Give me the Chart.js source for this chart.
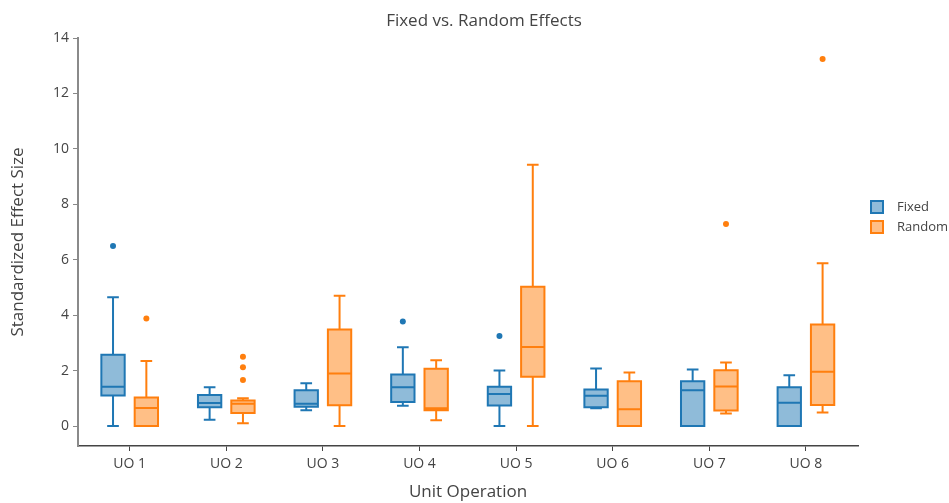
<!DOCTYPE html>
<html>
<head>
<meta charset="utf-8">
<script src="https://cdn.jsdelivr.net/npm/chart.js@4/dist/chart.umd.min.js"></script>
<style>
  html, body { margin: 0; padding: 0; background: #fff; }
  #wrap { width: 949px; height: 503px; position: relative; }
</style>
</head>
<body>
<div id="wrap"><canvas id="c" width="949" height="503"></canvas></div>
<script>
// Unit operations on the category axis
const categories = ['UO 1', 'UO 2', 'UO 3', 'UO 4', 'UO 5', 'UO 6', 'UO 7', 'UO 8'];

// Fixed effects: five-number summaries and outliers per unit operation
const fixedMin     = [0.00, 0.23, 0.57, 0.73, 0.00, 0.64, 0.00, 0.00];
const fixedQ1      = [1.10, 0.68, 0.70, 0.87, 0.74, 0.68, 0.00, 0.00];
const fixedMedian  = [1.42, 0.83, 0.80, 1.40, 1.16, 1.09, 1.29, 0.84];
const fixedQ3      = [2.57, 1.12, 1.29, 1.86, 1.42, 1.32, 1.62, 1.40];
const fixedMax     = [4.65, 1.40, 1.54, 2.84, 2.00, 2.08, 2.04, 1.83];
const fixedOutliers = [[6.50], [], [], [3.77], [3.25], [], [], []];

// Random effects: five-number summaries and outliers per unit operation
const randomMin     = [0.00, 0.10, 0.00, 0.21, 0.00, 0.00, 0.45, 0.49];
const randomQ1      = [0.00, 0.47, 0.75, 0.57, 1.78, 0.00, 0.56, 0.76];
const randomMedian  = [0.65, 0.80, 1.90, 0.64, 2.85, 0.61, 1.43, 1.96];
const randomQ3      = [1.03, 0.92, 3.48, 2.07, 5.03, 1.62, 2.01, 3.66];
const randomMax     = [2.35, 1.00, 4.70, 2.37, 9.43, 1.93, 2.29, 5.87];
const randomOutliers = [[3.88], [2.50, 2.12, 1.66], [], [], [], [], [7.29], [13.24]];

// Y axis tick values
const yTicks = [0, 2, 4, 6, 8, 10, 12, 14];

const FONT = "'Open Sans', 'Noto Sans', sans-serif";
const TEXT = '#444';
const BLUE = '#1f77b4';
const ORANGE = '#ff7f0e';

const series = [
  { name: 'Fixed', color: BLUE, fill: 'rgba(31,119,180,0.5)',
    min: fixedMin, q1: fixedQ1, med: fixedMedian, q3: fixedQ3, max: fixedMax, out: fixedOutliers },
  { name: 'Random', color: ORANGE, fill: 'rgba(255,127,14,0.5)',
    min: randomMin, q1: randomQ1, med: randomMedian, q3: randomQ3, max: randomMax, out: randomOutliers }
];

// Box outline, whiskers, caps, medians and outliers drawn over the filled floating bars
const boxExtras = {
  id: 'boxExtras',
  afterDatasetsDraw(chart) {
    const ctx = chart.ctx;
    const y = chart.scales.y;
    series.forEach((s, di) => {
      const meta = chart.getDatasetMeta(di);
      meta.data.forEach((bar, i) => {
        const cx = bar.x;
        const w = bar.width;
        const half = w / 2;
        const cap = w / 4;
        const pQ1 = y.getPixelForValue(s.q1[i]);
        const pQ3 = y.getPixelForValue(s.q3[i]);
        const pMin = y.getPixelForValue(s.min[i]);
        const pMax = y.getPixelForValue(s.max[i]);
        const pMed = y.getPixelForValue(s.med[i]);
        ctx.save();
        ctx.strokeStyle = s.color;
        ctx.lineWidth = 2;
        ctx.lineJoin = 'miter';
        ctx.beginPath();
        // box outline
        ctx.rect(cx - half, pQ3, w, pQ1 - pQ3);
        // upper whisker and cap
        ctx.moveTo(cx, pQ3); ctx.lineTo(cx, pMax);
        ctx.moveTo(cx - cap, pMax); ctx.lineTo(cx + cap, pMax);
        // lower whisker and cap
        ctx.moveTo(cx, pQ1); ctx.lineTo(cx, pMin);
        ctx.moveTo(cx - cap, pMin); ctx.lineTo(cx + cap, pMin);
        // median
        ctx.moveTo(cx - half, pMed); ctx.lineTo(cx + half, pMed);
        ctx.stroke();
        // outliers
        ctx.fillStyle = s.color;
        s.out[i].forEach(v => {
          ctx.beginPath();
          ctx.arc(cx, y.getPixelForValue(v), 3, 0, Math.PI * 2);
          ctx.fill();
        });
        ctx.restore();
      });
    });
  }
};

// Title and legend
const decorations = {
  id: 'decorations',
  afterDraw(chart) {
    const ctx = chart.ctx;
    ctx.save();
    ctx.fillStyle = TEXT;
    ctx.textBaseline = 'middle';
    ctx.textAlign = 'center';
    ctx.font = '17px ' + FONT;
    ctx.fillText('Fixed vs. Random Effects', 484, 21);

    ctx.textAlign = 'left';
    ctx.font = '13px ' + FONT;
    series.forEach((s, k) => {
      const top = 201 + k * 20;
      ctx.fillStyle = s.fill;
      ctx.fillRect(871, top, 12, 12);
      ctx.strokeStyle = s.color;
      ctx.lineWidth = 2;
      ctx.strokeRect(871, top, 12, 12);
      ctx.fillStyle = TEXT;
      ctx.fillText(s.name, 897, top + 6);
    });
    ctx.restore();
  }
};

new Chart(document.getElementById('c'), {
  type: 'bar',
  data: {
    labels: categories,
    datasets: series.map(s => ({
      label: s.name,
      data: s.q1.map((v, i) => [v, s.q3[i]]),
      backgroundColor: s.fill,
      borderColor: s.color,
      borderWidth: 0,
      categoryPercentage: 0.69,
      barPercentage: 0.70
    }))
  },
  options: {
    responsive: false,
    animation: false,
    devicePixelRatio: 1,
    layout: { padding: { top: 38, right: 91, bottom: 0, left: 0 } },
    plugins: {
      legend: { display: false },
      title: { display: false },
      tooltip: { enabled: false }
    },
    scales: {
      x: {
        offset: true,
        grid: { display: true, offset: false, drawOnChartArea: false, drawTicks: true, tickLength: 5, color: '#444', lineWidth: 1 },
        border: { display: true, color: '#444', width: 1.5 },
        ticks: { color: TEXT, font: { family: FONT, size: 14 }, padding: 5, maxRotation: 0, autoSkip: false },
        title: { display: true, text: 'Unit Operation', color: TEXT, font: { family: FONT, size: 17 }, padding: { top: 0, bottom: 1 } },
        afterFit(scale) { scale.height = 57; },
        // category range runs a little past the outer half-steps
        afterUpdate(scale) { scale._startValue = -0.535; scale._valueRange = 8.074; }
      },
      y: {
        min: -0.72,
        max: 14,
        grid: { display: true, drawOnChartArea: false, drawTicks: true, tickLength: 5, color: '#888', lineWidth: 1 },
        border: { display: true, color: '#8a8a8a', width: 2 },
        ticks: { color: TEXT, font: { family: FONT, size: 14 }, padding: 4 },
        afterBuildTicks(scale) { scale.ticks = yTicks.map(v => ({ value: v })); },
        title: { display: true, text: 'Standardized Effect Size', color: TEXT, font: { family: FONT, size: 17 }, padding: { top: 8, bottom: 0 } },
        afterFit(scale) { scale.width = 78; }
      }
    }
  },
  plugins: [boxExtras, decorations]
});
</script>
</body>
</html>
